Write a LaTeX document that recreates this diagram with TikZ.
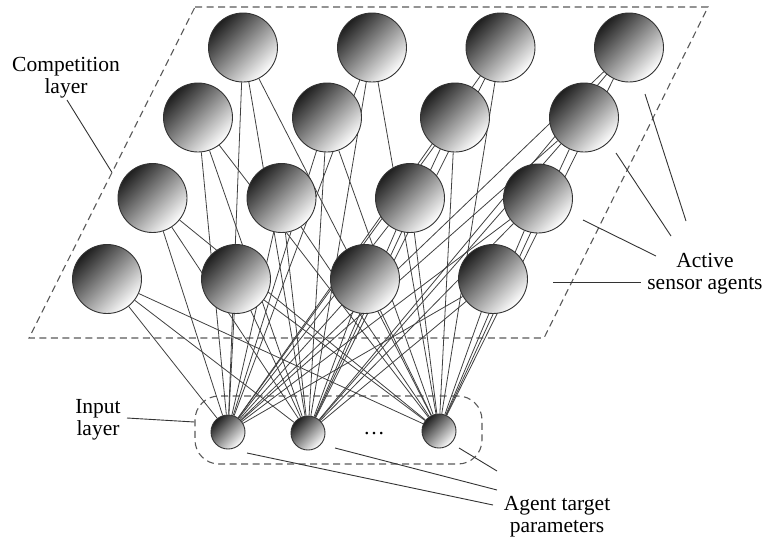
\documentclass[tikz,border=0pt]{standalone}
\usepackage{fontspec}
\setmainfont{Liberation Serif}
\usetikzlibrary{backgrounds,calc}
\begin{document}
\begin{tikzpicture}[x=1pt,y=-1pt,
  agent/.style={circle, draw=black!80, line width=0.9pt, minimum size=69pt, inner sep=0pt,
    top color=black!88, bottom color=white, shading angle=45},
  inp/.style={agent, minimum size=34pt},
  link/.style={draw=black!75, line width=0.8pt},
  leader/.style={draw=black!80, line width=0.9pt},
  frame/.style={draw=black!65, line width=1.1pt, dash pattern=on 7pt off 4.5pt},
  lbl/.style={font=\fontsize{21.5}{21.5}\selectfont, align=center, inner sep=0pt}]
\useasboundingbox (0,0) rectangle (764,539);

% competition layer agents
\node[agent] (c11) at (243,47.5) {};
\node[agent] (c12) at (372,47.5) {};
\node[agent] (c13) at (500.5,47.5) {};
\node[agent] (c14) at (629,47.5) {};
\node[agent] (c21) at (198,117.5) {};
\node[agent] (c22) at (327,117.5) {};
\node[agent] (c23) at (455,117.5) {};
\node[agent] (c24) at (584,117.5) {};
\node[agent] (c31) at (152.5,198) {};
\node[agent] (c32) at (281.5,198) {};
\node[agent] (c33) at (410,198) {};
\node[agent] (c34) at (538,198.5) {};
\node[agent] (c41) at (107,279) {};
\node[agent] (c42) at (236,279) {};
\node[agent] (c43) at (365,279) {};
\node[agent] (c44) at (493,279) {};

% input layer
\node[inp] (i1) at (228,432) {};
\node[inp] (i2) at (308,433) {};
\node[inp] (i3) at (439,431) {};
\node[lbl] (dots) at (374,434) {\dots};

\begin{scope}[on background layer]
  \coordinate (p1) at (195,7);
  \coordinate (p2) at (708,7);
  \coordinate (p3) at (544,338);
  \coordinate (p4) at (29,338);
  \draw[frame] (p1) -- (p2) -- (p3) -- (p4) -- cycle;
  \node[frame, rounded corners=24pt, minimum width=287pt, minimum height=68pt, inner sep=0pt]
    (ibox) at (338.5,430) {};
  \foreach \r in {1,2,3,4} {
    \foreach \c in {1,2,3,4} {
      \foreach \i in {1,2,3} {
        \draw[link] (c\r\c) -- (i\i);
      }
    }
  }
\end{scope}

% labels (base = baseline of the last line)
\node[lbl, anchor=base] (lcomp) at (66,93) {Competition\\layer};
\node[lbl, anchor=base] (lact) at (705,289) {Active\\sensor agents};
\node[lbl, anchor=base] (linp) at (98,435) {Input\\layer};
\node[lbl, anchor=base] (lpar) at (557,532) {Agent target\\parameters};

% leaders
\coordinate (lc) at (67,100);
\draw[leader] (lc) -- ($(p1)!0.5!(p4)$);

\coordinate (la1) at (583,220); \coordinate (la1e) at (656,256);
\coordinate (la2) at (616,153); \coordinate (la2e) at (671,236);
\coordinate (la3) at (645,94);  \coordinate (la3e) at (686,221);
\coordinate (la4) at (553,282); \coordinate (la4e) at (641,282);
\draw[leader] (la1) -- (la1e);
\draw[leader] (la2) -- (la2e);
\draw[leader] (la3) -- (la3e);
\draw[leader] (la4) -- (la4e);

\coordinate (li) at (127,418);
\draw[leader] (li) -- ($(ibox.west)+(0,-8)$);

\coordinate (lp1) at (247,453); \coordinate (lp1e) at (493,505);
\coordinate (lp2) at (335,448); \coordinate (lp2e) at (497,490);
\coordinate (lp3) at (459,448); \coordinate (lp3e) at (497,471);
\draw[leader] (lp1) -- (lp1e);
\draw[leader] (lp2) -- (lp2e);
\draw[leader] (lp3) -- (lp3e);
\end{tikzpicture}
\end{document}
